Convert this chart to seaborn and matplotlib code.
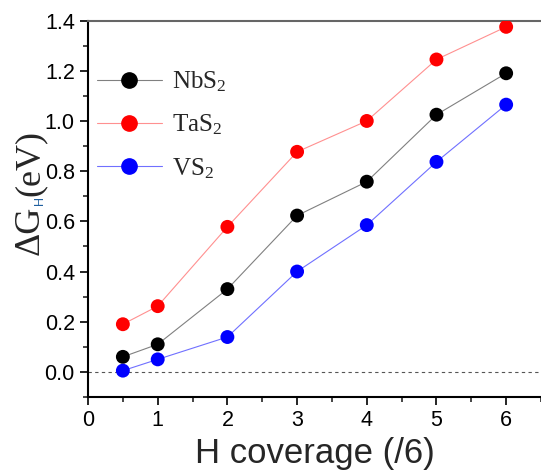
import matplotlib
matplotlib.use("Agg")
import matplotlib.pyplot as plt
import seaborn as sns
import pandas as pd
from matplotlib.lines import Line2D

coverage = [0.5, 1, 2, 3, 4, 5, 6]
nbs2 = [0.06, 0.11, 0.33, 0.623, 0.758, 1.025, 1.19]
tas2 = [0.19, 0.262, 0.578, 0.877, 1.0, 1.245, 1.375]
vs2 = [0.005, 0.05, 0.139, 0.40, 0.585, 0.837, 1.065]
names = ["NbS$_2$", "TaS$_2$", "VS$_2$"]
marker_colors = ["#000000", "#ff0000", "#0000ff"]
line_colors = ["#808080", "#ff9090", "#7070ff"]

df = pd.DataFrame({
    "x": coverage * 3,
    "y": nbs2 + tas2 + vs2,
    "s": [names[0]] * 7 + [names[1]] * 7 + [names[2]] * 7,
})

sns.set_style("ticks")
plt.rcParams["font.family"] = ["Liberation Sans", "DejaVu Sans"]
plt.rcParams["mathtext.fontset"] = "custom"
plt.rcParams["mathtext.rm"] = "Liberation Serif"
plt.rcParams["mathtext.it"] = "Liberation Serif:italic"
plt.rcParams["mathtext.sf"] = "Liberation Sans"

W, H = 541, 472
fig = plt.figure(figsize=(W / 100, H / 100), dpi=100)
ax = fig.add_axes([0.1627, 0.1589, 0.8373, 0.7975])

sns.lineplot(data=df, x="x", y="y", hue="s", palette=dict(zip(names, line_colors)),
             linewidth=0.8, legend=False, ax=ax, zorder=2)
sns.scatterplot(data=df, x="x", y="y", hue="s", palette=dict(zip(names, marker_colors)),
                s=100, linewidth=0, legend=False, ax=ax, zorder=3)

ax.axhline(0, color="#555555", lw=0.8, ls=(0, (3, 3)), zorder=1)

ax.set_xlim(0, 6.5)
ax.set_ylim(-0.1, 1.4)
ax.set_xticks([0, 1, 2, 3, 4, 5, 6])
ax.set_xticks([0.5, 1.5, 2.5, 3.5, 4.5, 5.5, 6.5], minor=True)
ax.set_yticks([0.0, 0.2, 0.4, 0.6, 0.8, 1.0, 1.2, 1.4])
ax.set_yticks([-0.1, 0.1, 0.3, 0.5, 0.7, 0.9, 1.1, 1.3], minor=True)
ax.set_yticklabels(["0.0", "0.2", "0.4", "0.6", "0.8", "1.0", "1.2", "1.4"])
ax.tick_params(axis="both", which="major", direction="out", length=6, width=1.2,
               labelsize=15.5, colors="black")
ax.tick_params(axis="both", which="minor", direction="out", length=3.5, width=1.2)

for side in ["left", "bottom"]:
    ax.spines[side].set_linewidth(1.5)
    ax.spines[side].set_color("black")
ax.spines["top"].set_color("#666666")
ax.spines["top"].set_linewidth(1.5)
ax.spines["right"].set_visible(False)

ax.set_xlabel("H coverage (/6)", fontsize=25, labelpad=4)
ax.set_ylabel("")

# y label built from pieces: serif "ΔG", small blue sans subscript "H", serif "(eV)"
renderer = fig.canvas.get_renderer()
common = dict(rotation=90, rotation_mode="anchor", ha="left", va="baseline")
t1 = fig.text(39 / W, 1 - 255 / H, "ΔG", family="Liberation Serif", size=26, **common)
bb1 = t1.get_window_extent(renderer)
t2 = fig.text(43 / W, (bb1.y1 + 0.5) / H, "H", family="Liberation Sans", size=9,
              color="#1f5f9f", **common)
bb2 = t2.get_window_extent(renderer)
t3 = fig.text(39 / W, (bb2.y1 + 0.5) / H, "(eV)", family="Liberation Serif", size=26, **common)

handles = [Line2D([0], [0], color=lc, lw=0.8, marker="o", markersize=11,
                  markerfacecolor=mc, markeredgecolor=mc)
           for lc, mc in zip(line_colors, marker_colors)]
ax.legend(handles, names, loc="upper left", bbox_to_anchor=(-0.03, 0.93), frameon=False,
          prop={"family": "Liberation Serif", "size": 18}, handlelength=2.6,
          labelspacing=0.75, handletextpad=0.4)

fig.savefig("out.png", dpi=100)
